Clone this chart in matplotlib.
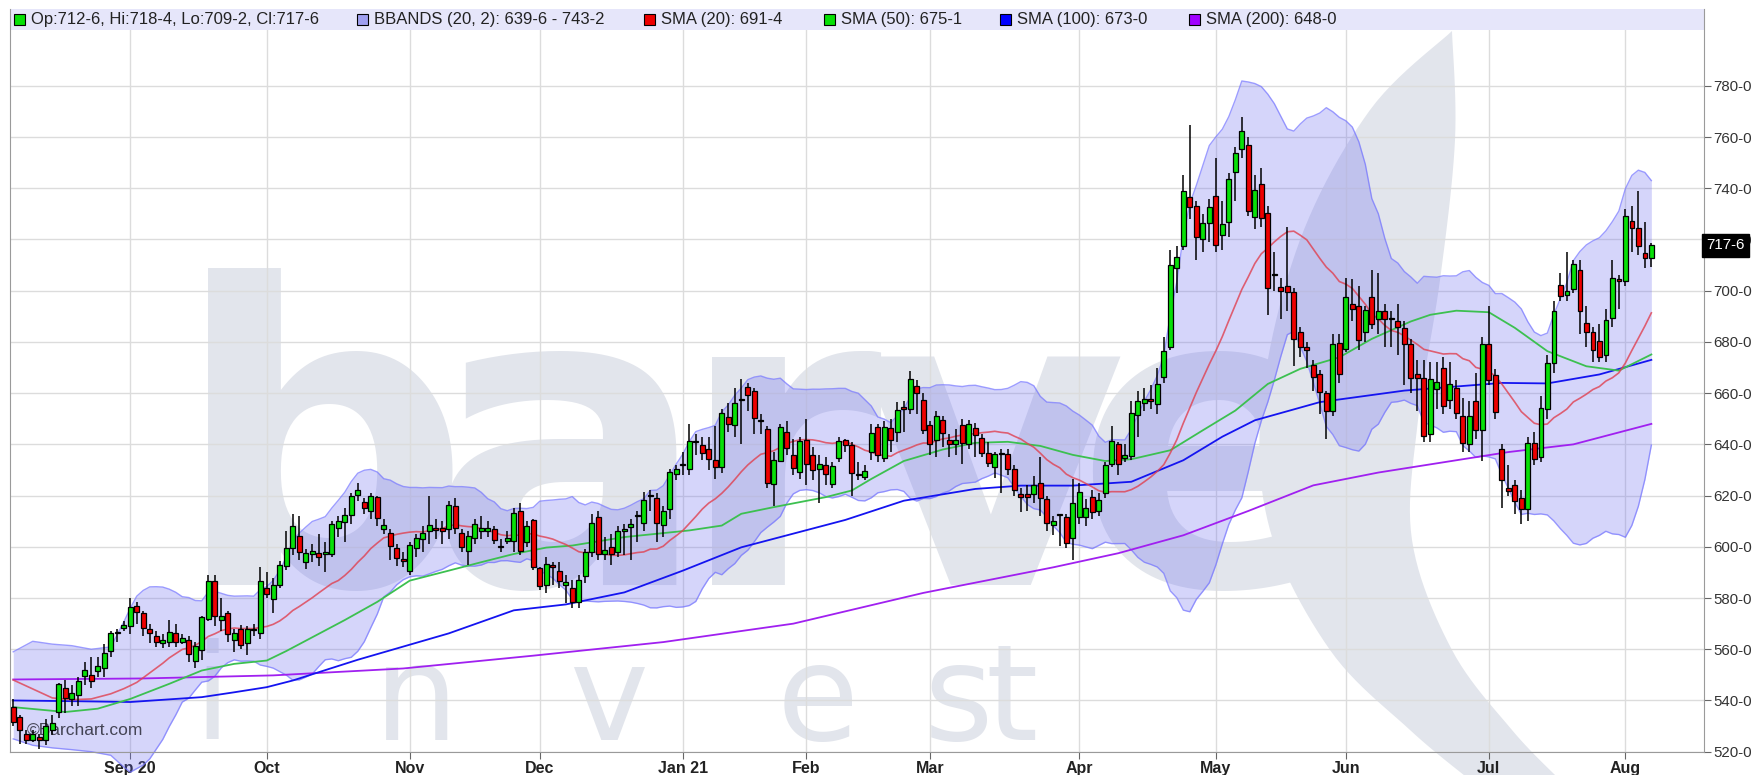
import matplotlib
matplotlib.use('Agg')
import matplotlib.pyplot as plt
import numpy as np
import pandas as pd
from matplotlib.patches import Rectangle, Polygon

# ---------------- data ----------------
holidays = ['2020-09-07', '2020-11-26', '2020-12-25', '2021-01-01', '2021-01-18',
            '2021-02-15', '2021-04-02', '2021-05-31', '2021-07-05']
dates = pd.bdate_range('2020-08-06', '2021-08-06')
dates = dates[~dates.isin(pd.to_datetime(holidays))]

opens = [537.4, 533.5, 527, 524.7, 525.7, 524.4, 528.3, 535.5, 545, 540.6, 542, 549.7, 550, 551.4, 552.7, 559.2, 566.2, 568.3, 569, 577,
         574.2, 568, 565, 562.3, 563, 566.4, 563, 563.8, 555.6, 559.7, 571.8, 586.8, 571.4, 574.2, 563.6, 568, 562.3, 568, 566.4, 583.8,
         579.5, 585.2, 592.6, 599.7, 604.3, 594, 597.2, 597.4, 597.2, 597.2, 607.5, 609.8, 612.4, 620.1, 617.4, 613.9, 619.4, 606.8, 605.5, 599.7,
         595.2, 590.7, 599.7, 603.2, 606.2, 607.5, 607.2, 606.8, 615.9, 605.5, 598.5, 603.6, 606, 606, 606.8, 600.4, 602.3, 602.3, 614, 601.7,
         610.4, 591.7, 585.2, 593, 590.5, 584.9, 583.9, 578.6, 588.8, 597.9, 611.6, 597.2, 599.8, 597.9, 606.1, 607.7, 612.2, 609.2, 620, 619,
         608.6, 614.8, 628.3, 631.9, 630.5, 641, 639.9, 638.3, 634, 631.1, 650.7, 647.7, 657.6, 662.4, 660.7, 649, 646.1, 624.6, 633.7, 644.8,
         636, 629.4, 641.6, 636, 630.2, 631.8, 624.6, 634.8, 641.6, 639.6, 628.4, 627.4, 637.2, 646.7, 634.6, 646.5, 644.9, 654.6, 654, 662.6,
         657.4, 647.7, 641.9, 649.4, 641.9, 640.3, 647.5, 640, 646.2, 642.3, 636.8, 631, 636.2, 636.1, 630.3, 620.6, 620.6, 620.6, 624.8, 618.7,
         608.4, 612.3, 611.6, 603.5, 611.6, 611.6, 619.4, 613.8, 621, 632.3, 640, 634.5, 635.3, 651.3, 656.2, 657.7, 655.8, 666.2, 678.2, 709,
         717.5, 736.4, 732.9, 720.1, 726.6, 737, 721.8, 727, 746.4, 755.5, 756.9, 728.8, 741.8, 730.4, 706.1, 701.6, 702, 699.4, 684, 678.2,
         670.8, 667.5, 660, 653, 679.5, 677.3, 694.8, 694.2, 683.8, 697.4, 689, 692, 689.2, 688, 685.5, 679, 667.3, 666, 644.2, 661.8,
         669.9, 657.5, 662.1, 651, 640, 656.9, 645.5, 679, 666.9, 638, 622.9, 624.2, 619.2, 614.7, 640.4, 635.1, 653.9, 671.8, 702.3, 698.4,
         700.8, 707.9, 687.4, 683.8, 680.3, 674.8, 689.4, 704.7, 703.9, 727.3, 724.4, 714.7, 712.75]
highs = [540.6, 534.5, 528.6, 528.3, 527, 532.9, 534.2, 547, 548, 546, 549, 555, 557, 557, 562, 567, 568, 571, 580, 578.6,
         575, 570, 567, 566, 571.5, 570, 566, 565, 563, 573, 589, 589, 580, 575, 568, 569.5, 569, 570, 592, 590,
         588, 594.5, 606, 613, 612, 599, 601, 605, 602, 610, 612, 615, 621, 625, 619, 621, 620, 611, 607, 601,
         598, 602, 605, 608, 620, 611, 610, 618, 619, 607, 606, 611, 612, 610, 608, 603, 606, 615, 617, 610,
         611, 592, 596, 594, 594, 589, 587, 589, 599, 613, 614, 604, 605, 608, 609, 611, 614, 621.5, 622, 621,
         616, 630.5, 632, 637, 648, 644, 643, 643, 647, 654, 656, 662, 665.5, 664, 662, 652, 647, 637, 648, 649,
         642, 643, 650, 639, 636, 635, 633, 642.8, 642, 641, 633, 632, 648, 648, 649, 650, 656.5, 657, 668.7, 665,
         660, 649, 653, 651, 644, 646, 650, 649.5, 648.5, 644, 641, 637, 638, 638, 632, 623, 624, 627.5, 635, 620,
         612, 613, 613, 626.5, 625, 618.6, 622, 621, 633, 647, 641, 640, 657, 661, 662, 663, 670, 682, 716, 717.6,
         745, 764.6, 735, 730, 736, 752, 735, 746, 756, 767.8, 760, 745, 748, 733, 715, 705, 725, 701, 686, 680,
         673, 669, 661, 683, 683, 705, 704.7, 702, 694, 708, 707, 695, 692, 695, 688, 681, 673, 673, 672, 672,
         674, 672, 665, 658, 657, 668, 682, 694, 669.5, 640, 632, 626, 622, 643, 645, 659, 675, 696, 707, 715,
         712, 712, 694, 686, 687, 693, 712, 706, 732, 733, 739, 727, 718.5]
lows = [530, 523, 523, 523.8, 521.2, 522.5, 526.4, 533, 535, 538, 538, 546, 545, 549, 549, 557, 563, 567, 566, 570,
        565, 562.5, 561, 560.5, 561, 561, 562, 555, 552.7, 556, 571, 569, 567, 563, 559, 560, 557.7, 565, 564, 580,
        574, 584, 591, 597, 595, 591.5, 594, 592.5, 590, 596, 604, 602, 609, 618, 613, 611, 608, 605, 595, 592.5,
        592, 589, 596, 598, 601, 603, 601, 603, 605, 598, 593, 601, 603, 604, 601, 598, 601, 598, 597, 600,
        591, 583, 582, 585, 584, 578, 576, 576, 586, 596, 595, 595, 593, 596, 597, 595, 602, 606, 614, 602,
        604, 611, 626, 628, 628, 636, 634, 630, 626.5, 629, 645, 643, 640, 653, 644, 644, 623, 616, 633, 636,
        628, 626.5, 624, 626, 617, 624, 623, 633, 637, 620, 626, 626, 634, 633, 633, 637, 641, 645, 652, 652,
        644, 636, 635, 639, 635, 636, 632.5, 638, 635, 635, 631, 627, 621, 628, 620, 613.5, 614, 617, 612, 606,
        604.5, 600.5, 599.5, 594.8, 609, 608, 611, 612, 619, 631, 628, 633, 634, 643, 653, 654, 652, 664, 677, 699,
        716, 728, 711.8, 715, 719, 715, 716, 721, 735, 752, 729, 724, 725, 690.6, 700, 689, 692, 670.6, 674, 670,
        661, 652, 642, 651, 664, 676, 688, 677, 680, 685, 683, 678, 678, 675, 663, 660, 653, 641, 641, 654,
        652, 654, 650, 637, 637, 642, 633.5, 663, 650, 615, 620, 613, 609, 610, 632, 633, 650, 668, 696, 696,
        699, 683, 678, 672, 672, 672, 686, 693, 702, 715, 714, 709, 709.25]
closes = [531.6, 528.6, 524.7, 527, 524.7, 529.9, 531.2, 546.5, 541, 543, 547.5, 552, 547.8, 553.5, 558.4, 566.4, 566.8, 569.6, 576.6, 574.4,
          568.3, 566.4, 563, 563.6, 566.9, 563, 564.3, 558.2, 561.4, 572.5, 586.8, 572.8, 572.8, 566, 566.2, 561.8, 568, 567.6, 586.8, 581.6,
          585.2, 593, 599.7, 608.1, 598, 597.4, 598.5, 596.1, 598, 609, 610, 612.4, 620, 622, 615.2, 619.7, 611.1, 608.4, 600.4, 595.5,
          594.6, 600.6, 603.6, 605.3, 608.4, 606.5, 606.2, 616.3, 607.2, 600, 604.3, 609, 607.2, 607.2, 602.6, 600, 603.6, 613.3, 598.5, 608.1,
          592, 584.6, 593.3, 592, 586.5, 586.4, 578.6, 587.1, 597.9, 609.2, 597.2, 598.8, 597.2, 606.1, 607, 609, 612.4, 618.4, 620.2, 609.2,
          614, 629.2, 630.5, 632, 641.3, 641.3, 636.7, 634.1, 631.1, 652.3, 648.1, 656, 657.4, 659.1, 650.4, 649, 624.9, 634, 646.8, 638.6,
          630.7, 641.2, 632.4, 629.8, 632.2, 628.3, 631.5, 641.3, 639.9, 629, 628, 629.7, 644.5, 635.7, 646.7, 641.9, 653.5, 653.8, 665.5, 660,
          645.8, 640, 650.9, 644.5, 640, 641.6, 640.6, 648.1, 643.6, 636.8, 632.6, 636.1, 636.1, 630.3, 622.2, 619.6, 619.4, 624.1, 619, 609.3,
          610, 612.3, 601.3, 617, 621.3, 615.1, 613.5, 618.3, 632, 641.3, 632.3, 635.8, 652.2, 656.8, 657.6, 656.9, 663.6, 676.4, 710.1, 713,
          739, 732.5, 721, 726.6, 732.5, 718, 726, 743.5, 753.9, 762.3, 731.2, 739.4, 728.3, 701, 706.1, 700, 699.4, 681.2, 678.2, 676.9,
          666.5, 660.4, 653, 679, 667.5, 697.4, 692.9, 680.8, 692.5, 687, 692, 689, 689, 686, 679, 666, 666, 643.2, 665.7, 664.3,
          654.9, 663.4, 652.1, 640.6, 651, 645.8, 679, 665.3, 652.7, 626.1, 621.8, 617.7, 614.7, 640.4, 634.2, 654.3, 671.8, 692.2, 697.8, 700,
          710.4, 692.2, 683.9, 676.8, 674.2, 688.7, 705, 703.9, 729, 724.4, 717.3, 712.7, 717.75]

# first bars of SMA(20) / BBANDS (they need data before the window)
head_idx = [0, 3, 6, 9, 12, 15, 17, 18]
sma20_head = [548.0, 544.5, 541.0, 540.3, 540.6, 542.6, 544.6, 545.8]
bb_up_head = [559.0, 563.1, 562.0, 561.4, 560.0, 560.9, 570.6, 576.0]
bb_lo_head = [525.0, 522.5, 521.5, 520.8, 520.0, 518.6, 514.0, 512.0]

sma50_idx = [0, 8, 13, 18, 24, 29, 34, 39, 42, 51, 56, 61, 67, 72, 77, 82, 86, 94, 104, 109, 112, 117, 125, 129,
             132, 137, 143, 148, 153, 158, 163, 168, 172, 178, 183, 188, 193, 198, 204, 209, 215, 218, 222, 227,
             231, 236, 242, 247, 252]
sma50 = [537.4, 535.5, 536.8, 540.6, 546.5, 551.7, 554.3, 555.6, 559.3, 571.4, 578.5, 586.8, 590.7, 594, 597.2, 599.7,
         600.5, 603.8, 606.4, 608.3, 612.9, 615.5, 619.4, 622, 626.5, 633.5, 638, 640.6, 641, 639.4, 635.9, 633.5,
         634.2, 637.7, 645.5, 653.2, 663.6, 669.5, 674, 681.2, 688, 690.6, 692.2, 691.6, 685.5, 676.4, 670.5, 668.8, 675.1]
sma100_idx = [0, 10, 18, 29, 34, 39, 43, 53, 67, 77, 85, 94, 103, 112, 128, 137, 148, 155, 163, 172, 180, 186,
              191, 201, 214, 229, 236, 244, 252]
sma100 = [540, 539.7, 539.4, 541.3, 543.2, 545.2, 547.8, 555.9, 566.2, 575.2, 577.5, 582.2, 590.7, 599.8, 610.5, 618,
          622.6, 623.9, 623.9, 625.4, 633.8, 643, 649.4, 656.5, 661, 664, 663.8, 667.3, 673.0]
sma200_idx = [0, 20, 40, 60, 80, 100, 120, 130, 140, 150, 160, 170, 180, 190, 200, 210, 220, 230, 240, 252]
sma200 = [548.2, 548.6, 549.8, 552.5, 557.5, 562.8, 570, 576, 582, 587, 592, 597.5, 604.5, 614, 624, 629, 633,
          637, 640, 648.0]

month_labels = ['Sep 20', 'Oct', 'Nov', 'Dec', 'Jan 21', 'Feb', 'Mar', 'Apr', 'May', 'Jun', 'Jul', 'Aug']
y_ticks = list(range(520, 800, 20))
legend_texts = ['Op:712-6, Hi:718-4, Lo:709-2, Cl:717-6', 'BBANDS (20, 2): 639-6 - 743-2',
                'SMA (20): 691-4', 'SMA (50): 675-1', 'SMA (100): 673-0', 'SMA (200): 648-0']

# ---------------- helpers ----------------
SANS = 'Liberation Sans'
W, H = 1752, 775


def fx(px):
    return px / W


def fy(py):
    return 1 - py / H


def fmt(v):
    w = int(np.floor(v + 1e-9))
    e = int(round((v - w) * 8))
    if e == 8:
        w, e = w + 1, 0
    return f"{w}-{e}"


def catmull(pts, k=12):
    pts = np.asarray(pts, float)
    out = []
    P = np.vstack([pts[0], pts, pts[-1]])
    for i in range(1, len(P) - 2):
        p0, p1, p2, p3 = P[i - 1], P[i], P[i + 1], P[i + 2]
        for t in np.linspace(0, 1, k, endpoint=False):
            t2, t3 = t * t, t * t * t
            out.append(0.5 * ((2 * p1) + (-p0 + p2) * t + (2 * p0 - 5 * p1 + 4 * p2 - p3) * t2
                              + (-p0 + 3 * p1 - 3 * p2 + p3) * t3))
    out.append(pts[-1])
    return np.array(out)


n = len(closes)
x = np.arange(n)
o = np.array(opens); h = np.array(highs); l = np.array(lows); c = np.array(closes)
cs = pd.Series(c)
m20 = cs.rolling(20).mean().to_numpy()
sd20 = cs.rolling(20).std(ddof=0).to_numpy()
bx = np.array(head_idx + list(range(19, n)))
mid = np.concatenate([sma20_head, m20[19:]])
up = np.concatenate([bb_up_head, (m20 + 2 * sd20)[19:]])
lo = np.concatenate([bb_lo_head, (m20 - 2 * sd20)[19:]])

month_pos = [i for i in range(1, n) if dates[i].month != dates[i - 1].month]

# ---------------- figure ----------------
fig = plt.figure(figsize=(W / 100, H / 100), dpi=100)
fig.patch.set_facecolor('white')
L, R, T, B = 10, 1704, 9, 751.7
ax = fig.add_axes([fx(L), fy(B), (R - L) / W, (B - T) / H])
ax.patch.set_alpha(0)
ax.set_xlim(-0.5, 260.1)
ax.set_ylim(520, 810)

# watermark (figure level, behind the axes)
wm = '#e2e5ec'
for ch, px in [('b', 322), ('a', 568), ('r', 780), ('v', 990), ('e', 1215)]:
    fig.text(fx(px), fy(585), ch, fontsize=300, family='DejaVu Sans', color=wm, zorder=-5,
             ha='center', va='baseline', fontweight='bold')
for ch, px in [('i', 212), ('n', 416), ('v', 608), ('e', 818), ('s', 958), ('t', 1012)]:
    fig.text(fx(px), fy(740), ch, fontsize=96, family='DejaVu Sans', color=wm, zorder=-5,
             ha='center', va='baseline')
left_edge = [(1452, 31), (1370, 110), (1300, 240), (1262, 400), (1270, 530), (1330, 650), (1410, 730), (1470, 780)]
right_edge = [(1560, 780), (1512, 730), (1452, 650), (1412, 540), (1418, 420), (1440, 280), (1455, 140), (1452, 31)]
sw = np.vstack([catmull(left_edge), catmull(right_edge)])
fig.patches.append(Polygon(np.column_stack([sw[:, 0] / W, 1 - sw[:, 1] / H]), closed=True,
                           transform=fig.transFigure, fc=wm, ec='none', zorder=-5))

# grid
for yv in y_ticks:
    ax.axhline(yv, color='#dcdcdc', lw=1, zorder=1)
for mp in month_pos:
    ax.axvline(mp, color='#dcdcdc', lw=1, zorder=1)

# bollinger band
ax.fill_between(bx, lo, up, color=(0.40, 0.40, 0.94), alpha=0.27, lw=0, zorder=2, clip_on=False)
ax.plot(bx, up, color=(0.45, 0.45, 1.0), lw=1, alpha=0.7, zorder=2.1, clip_on=False)
ax.plot(bx, lo, color=(0.45, 0.45, 1.0), lw=1, alpha=0.7, zorder=2.1, clip_on=False)

# moving averages
ax.plot(sma200_idx, sma200, color='#a020f0', lw=1.3, zorder=3)
ax.plot(sma100_idx, sma100, color='#1414f0', lw=1.3, zorder=3)
ax.plot(sma50_idx, sma50, color='#3cc050', lw=1.3, zorder=3)
ax.plot(bx, mid, color='#e04050', lw=1.2, alpha=0.8, zorder=3)

# barchart text
ax.text((27 - L) / (R - L), 1 - (730 - T) / (B - T), '\u00a9Barchart.com', transform=ax.transAxes,
        fontsize=12.5, color='#444455', family=SANS, va='center', ha='left', zorder=3.5)

# candles
up_c = c >= o
body_lo = np.minimum(o, c)
body_h = np.maximum(np.abs(c - o), 0.35)
ax.vlines(x, l, h, color='black', lw=1.1, zorder=4)
ax.bar(x, body_h, bottom=body_lo, width=0.72,
       color=np.where(up_c, '#08e008', '#ee0000'), edgecolor='black', lw=0.9, zorder=5)

# legend strip
sh = 21 / (B - T)
ax.add_patch(Rectangle((0, 1 - sh), 1, sh, transform=ax.transAxes, fc='#e6e6fa', ec='none', zorder=6))
leg_cols = ['#08e008', '#a0a0f0', '#ee0000', '#08e008', '#0000ff', '#a000ff']
leg_x = [14, 357, 644, 824, 1000, 1189]
for col, txt, px in zip(leg_cols, legend_texts, leg_x):
    fig.patches.append(Rectangle((fx(px), fy(25)), 11 / W, 11 / H, transform=fig.transFigure,
                                 fc=col, ec='black', lw=0.8, zorder=7))
    fig.text(fx(px + 17), fy(19.5), txt, fontsize=12, family=SANS, color='#222222',
             va='center', ha='left', zorder=7)

# axes styling
ax.spines['top'].set_visible(False)
for s in ['left', 'bottom', 'right']:
    ax.spines[s].set_color('#9a9a9a')
    ax.spines[s].set_zorder(8)
ax.yaxis.tick_right()
ax.set_yticks(y_ticks)
ax.set_yticklabels([f"{v}-0" for v in y_ticks])
ax.tick_params(axis='y', direction='out', length=5, color='#666666', labelsize=10.8,
               labelcolor='#333333', pad=1.5)
for t in ax.get_yticklabels():
    t.set_family(SANS)
ax.set_xticks(month_pos)
ax.set_xticklabels(month_labels)
ax.tick_params(axis='x', direction='out', length=5, color='#666666', labelsize=11.5,
               labelcolor='#222222', pad=2)
for t in ax.get_xticklabels():
    t.set_family(SANS)
    t.set_fontweight('bold')

# last price marker
ax.text(1.0012, c[-1], fmt(c[-1]), transform=ax.get_yaxis_transform(), fontsize=10.8,
        family=SANS, color='white', va='center', ha='left', zorder=9,
        bbox=dict(boxstyle='square,pad=0.3', fc='black', ec='black'))

fig.savefig('out.png', dpi=100)
